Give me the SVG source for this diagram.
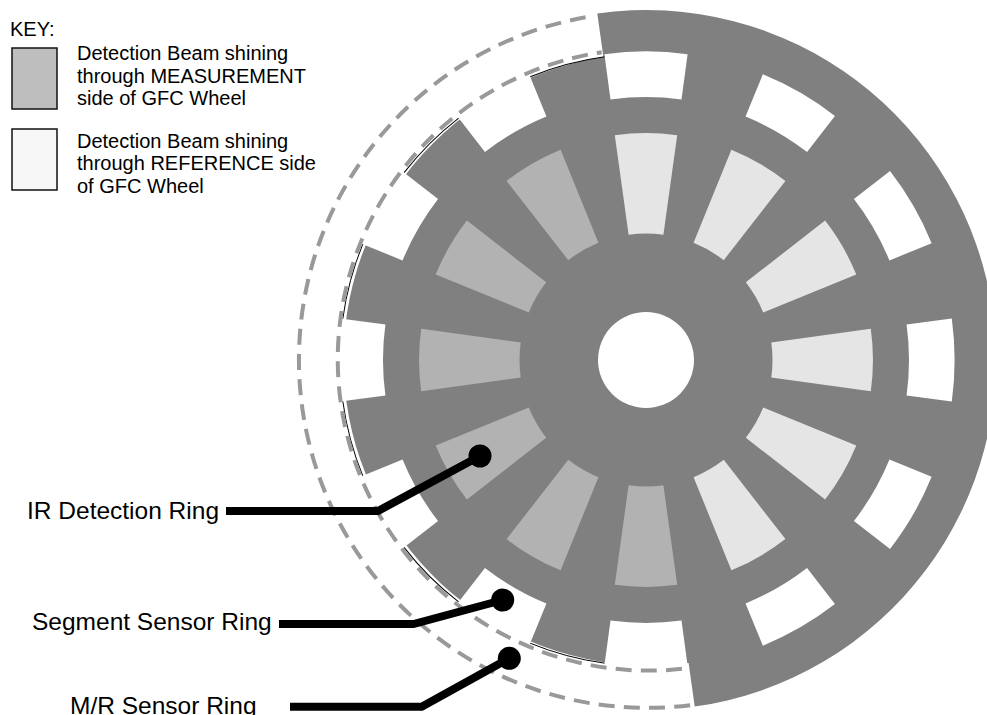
<svg xmlns="http://www.w3.org/2000/svg" width="987" height="715" viewBox="0 0 987 715">
<style>
.t{font-family:"Liberation Sans",Arial,sans-serif;fill:#000}
.k{font-size:20px}
.l{font-size:24.5px}
.sw{stroke:#111;stroke-width:1.5}
.ow{fill:#fff}
.lt{fill:#e5e5e5}
.md{fill:#b2b2b2}
.edge{fill:none;stroke:#000;stroke-width:1}
.dash{fill:none;stroke:#999;stroke-width:4;stroke-dasharray:16 9.2}
.lead{fill:none;stroke:#000;stroke-width:8;stroke-linejoin:miter}
</style>
<defs>
<path id="outerWin" d="M604.4 54.2A308.6 308.6 0 0 1 687.6 54.2L681.5 99.4A263 263 0 0 0 610.5 99.4Z"/>
<path id="innerWin" d="M614.8 135.2A227 227 0 0 1 677.2 135.2L663.4 234.7A126.5 126.5 0 0 0 628.6 234.7Z"/>
<path id="rimArc" d="M687.26 56.8A306 306 0 0 1 761.87 76.8"/>
</defs>
<rect width="987" height="715" fill="#fff"/>
<g id="key">
<text class="t k" x="10" y="35.5">KEY:</text>
<rect class="sw" x="12" y="48" width="45" height="61" fill="#bebebe"/>
<text class="t k" x="77" y="60">Detection Beam shining</text>
<text class="t k" x="77" y="82.5">through MEASUREMENT</text>
<text class="t k" x="77" y="105">side of GFC Wheel</text>
<rect class="sw" x="12" y="129" width="45" height="61" fill="#f7f7f7"/>
<text class="t k" x="77" y="147.5">Detection Beam shining</text>
<text class="t k" x="77" y="170">through REFERENCE side</text>
<text class="t k" x="77" y="192.5">of GFC Wheel</text>
</g>
<g id="wheel">
<path fill="#808080" d="M597.3 13.4A350 350 0 0 1 694.7 706.6L688.6 663A306 306 0 0 1 603.4 57Z"/>
<circle cx="646" cy="360" r="48" fill="#fff"/>
<g id="rim-edge" class="edge">
<use href="#rimArc" transform="rotate(180 646 360)"/>
<use href="#rimArc" transform="rotate(210 646 360)"/>
<use href="#rimArc" transform="rotate(240 646 360)"/>
<use href="#rimArc" transform="rotate(270 646 360)"/>
<use href="#rimArc" transform="rotate(300 646 360)"/>
<use href="#rimArc" transform="rotate(330 646 360)"/>
</g>
<g id="segment-windows" class="ow">
<use href="#outerWin"/>
<use href="#outerWin" transform="rotate(30 646 360)"/>
<use href="#outerWin" transform="rotate(60 646 360)"/>
<use href="#outerWin" transform="rotate(90 646 360)"/>
<use href="#outerWin" transform="rotate(120 646 360)"/>
<use href="#outerWin" transform="rotate(150 646 360)"/>
<use href="#outerWin" transform="rotate(180 646 360)"/>
<use href="#outerWin" transform="rotate(210 646 360)"/>
<use href="#outerWin" transform="rotate(240 646 360)"/>
<use href="#outerWin" transform="rotate(270 646 360)"/>
<use href="#outerWin" transform="rotate(300 646 360)"/>
<use href="#outerWin" transform="rotate(330 646 360)"/>
</g>
<g id="reference-windows" class="lt">
<use href="#innerWin"/>
<use href="#innerWin" transform="rotate(30 646 360)"/>
<use href="#innerWin" transform="rotate(60 646 360)"/>
<use href="#innerWin" transform="rotate(90 646 360)"/>
<use href="#innerWin" transform="rotate(120 646 360)"/>
<use href="#innerWin" transform="rotate(150 646 360)"/>
</g>
<g id="measurement-windows" class="md">
<use href="#innerWin" transform="rotate(180 646 360)"/>
<use href="#innerWin" transform="rotate(210 646 360)"/>
<use href="#innerWin" transform="rotate(240 646 360)"/>
<use href="#innerWin" transform="rotate(270 646 360)"/>
<use href="#innerWin" transform="rotate(300 646 360)"/>
<use href="#innerWin" transform="rotate(330 646 360)"/>
</g>
</g>
<g id="sensor-rings">
<path class="dash" d="M585.6 17.3A348 348 0 0 0 694.4 704.6"/>
<path class="dash" stroke-dashoffset="11" d="M601.7 52.2A311 311 0 0 0 685 668.5"/>
</g>
<g id="connectors">
<path class="lead" d="M226 511H378L480 456"/>
<circle cx="480" cy="456" r="11.5"/>
<path class="lead" d="M279 624H413.500L502.700 600"/>
<circle cx="502.700" cy="600" r="11.500"/>
<path class="lead" d="M290 706.700H421.700L509.300 658.300"/>
<circle cx="509.300" cy="658.300" r="11.500"/>
</g>
<g id="labels">
<text class="t l" x="27" y="519">IR Detection Ring</text>
<text class="t l" x="32" y="630">Segment Sensor Ring</text>
<text class="t l" x="70" y="714">M/R Sensor Ring</text>
</g>
</svg>
